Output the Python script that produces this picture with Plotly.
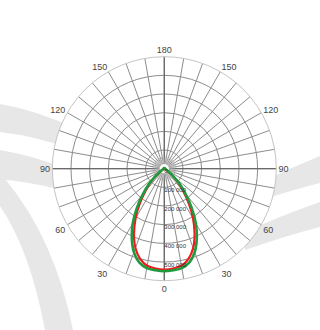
import numpy as np
import plotly.graph_objects as go

W, H = 320, 330

# ---- data (intensity in cd/klm style units) ----
angles = [0, 5, 10, 15, 20, 25, 30, 35, 40, 45, 50, 55, 60, 70, 80, 90, 120, 150, 180]
green_vals = [549000, 546000, 541000, 520000, 476000, 412000, 338000, 256000, 178000, 118000,
              62000, 30000, 14000, 7000, 5000, 4000, 4000, 4000, 4000]
red_vals = [540000, 537000, 528000, 500000, 452000, 384000, 308000, 230000, 158000, 104000,
            55000, 25000, 12000, 6000, 4000, 3000, 3000, 3000, 3000]

radial_ticks = [100000, 200000, 300000, 400000, 500000]
radial_labels = ["100 000", "200 000", "300 000", "400 000", "500 000"]
r_max = 600000

ang_tickvals = list(range(0, 360, 10))
ang_named = {0: "0", 30: "30", 60: "60", 90: "90", 120: "120", 150: "150", 180: "180",
             210: "150", 240: "120", 270: "90", 300: "60", 330: "30"}
ang_ticktext = [ang_named.get(v, "") for v in ang_tickvals]


def full_curve(vals):
    th = list(angles) + [360 - a for a in reversed(angles)]
    rr = list(vals) + list(reversed(vals))
    return th, rr


# ---- layout geometry (pixels) ----
cx, cy, R = 164.3, 168.7, 112.0
dom_x = [(cx - R) / W, (cx + R) / W]
dom_y = [1 - (cy + R) / H, 1 - (cy - R) / H]


def P(x, y):
    return f"{x / W:.4f},{1 - y / H:.4f}"


band = "#e7e7e7"
shapes = [
    # upper-left band
    dict(type="path", path=f"M {P(0,104)} Q {P(35,110)} {P(75,128)} L {P(75,150)} Q {P(35,136)} {P(0,132)} Z"),
    # left band merging into big arc
    dict(type="path", path=(f"M {P(0,150)} Q {P(35,156)} {P(70,170)} L {P(70,192)} Q {P(30,182)} {P(6,180)}"
                            f" Q {P(55,240)} {P(73,330)} L {P(45,330)} Q {P(30,250)} {P(0,206)} Z")),
    # right upper band
    dict(type="path", path=f"M {P(262,182)} Q {P(290,168)} {P(320,156)} L {P(320,183)} Q {P(292,190)} {P(262,200)} Z"),
    # right lower band
    dict(type="path", path=f"M {P(245,232)} Q {P(285,214)} {P(320,202)} L {P(320,227)} Q {P(285,236)} {P(245,250)} Z"),
]
for s in shapes:
    s.update(xref="paper", yref="paper", fillcolor=band, line=dict(width=0), layer="below")

fig = go.Figure()

# darker main cross axes
cross_th, cross_r = [], []
for a in [0, 90, 180, 270]:
    cross_th += [a, a, None]
    cross_r += [0, r_max, None]
fig.add_trace(go.Scatterpolar(r=cross_r, theta=cross_th, mode="lines",
                              line=dict(color="#6a6a6a", width=1.3), hoverinfo="skip",
                              showlegend=False, connectgaps=False))

# fine inner spokes
fine_th, fine_r = [], []
for a in range(5, 360, 10):
    fine_th += [a, a, None]
    fine_r += [27000, 64000, None]
fig.add_trace(go.Scatterpolar(r=fine_r, theta=fine_th, mode="lines",
                              line=dict(color="#bdbdbd", width=0.8), hoverinfo="skip",
                              showlegend=False, connectgaps=False))

# small white hub
hub_th = list(np.linspace(0, 360, 73))
fig.add_trace(go.Scatterpolar(r=[27000] * len(hub_th), theta=hub_th, mode="lines",
                              fill="toself", fillcolor="white",
                              line=dict(color="#a0a0a0", width=0.8), hoverinfo="skip",
                              showlegend=False))

# curves
th, rr = full_curve(red_vals)
fig.add_trace(go.Scatterpolar(r=rr, theta=th, mode="lines",
                              line=dict(color="#ee1c1c", width=2.2, shape="spline"),
                              showlegend=False))
th, rr = full_curve(green_vals)
fig.add_trace(go.Scatterpolar(r=rr, theta=th, mode="lines",
                              line=dict(color="#1f9a3e", width=2.6, shape="spline"),
                              showlegend=False))

# radial labels
fig.add_trace(go.Scatterpolar(r=[0] + radial_ticks, theta=[0] * (len(radial_ticks) + 1),
                              mode="text", text=["0"] + radial_labels,
                              textposition="bottom right",
                              textfont=dict(size=6, color="#333", family="Liberation Sans"),
                              hoverinfo="skip", showlegend=False))

fig.update_layout(
    width=W, height=H,
    margin=dict(l=0, r=0, t=0, b=0),
    paper_bgcolor="white",
    shapes=shapes,
    showlegend=False,
    font=dict(family="Liberation Sans", size=9, color="#444"),
    polar=dict(
        domain=dict(x=dom_x, y=dom_y),
        bgcolor="white",
        radialaxis=dict(range=[0, r_max], tickvals=radial_ticks, showticklabels=False,
                        ticks="", showline=False, gridcolor="#8c8c8c", gridwidth=1),
        angularaxis=dict(rotation=-90, direction="counterclockwise",
                         tickmode="array", tickvals=ang_tickvals, ticktext=ang_ticktext,
                         ticks="", gridcolor="#8c8c8c", gridwidth=1,
                         showline=True, linecolor="#c4c4c4", linewidth=1,
                         tickfont=dict(size=9, color="#444")),
    ),
)

fig.write_html("out.html")
